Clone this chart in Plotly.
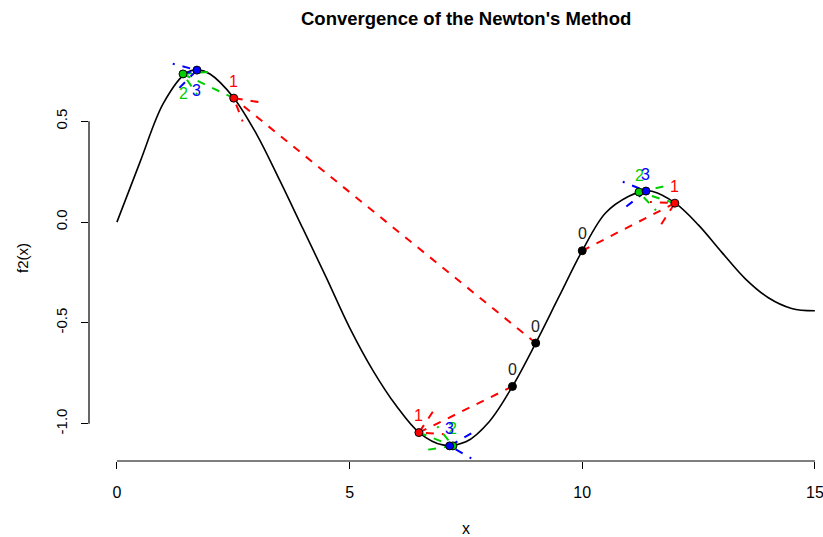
import math
import plotly.graph_objects as go

# ---- data ----
curve_x = [0.0, 0.5, 1.0, 1.5, 1.75, 2.0, 2.5, 3.0, 3.5, 4.0, 4.5, 5.0, 5.5, 6.0, 6.5,
           7.0, 7.5, 8.0, 8.5, 9.0, 9.5, 10.0, 10.5, 11.0, 11.35, 11.5, 12.0, 12.5,
           13.0, 13.5, 14.0, 14.5, 15.0]
curve_y = [0.0, 0.30, 0.59, 0.742, 0.755, 0.735, 0.62, 0.437, 0.207, -0.034, -0.275, -0.523,
           -0.735, -0.91, -1.045, -1.105, -1.09, -0.99, -0.815, -0.60, -0.37, -0.142, 0.045,
           0.128, 0.155, 0.153, 0.094, -0.015, -0.15, -0.28, -0.375, -0.428, -0.44]

run_a_x = [8.5, 6.49, 7.22, 7.15]
run_a_y = [-0.815, -1.044, -1.11, -1.11]
run_b_x = [9.0, 2.51, 1.42, 1.72]
run_b_y = [-0.60, 0.615, 0.735, 0.754]
run_c_x = [10.0, 11.99, 11.22, 11.37]
run_c_y = [-0.142, 0.094, 0.149, 0.154]
iter_labels = ["0", "1", "2", "3"]

x_ticks = [0, 5, 10, 15]
y_ticks = [-1.0, -0.5, 0.0, 0.5]
y_ticktext = ["-1.0", "-0.5", "0.0", "0.5"]

# ---- style ----
W, H = 823, 537
ML, MR, MT, MB = 89, 0, 55, 76
XR = [-0.6, 15.174]
YR = [-1.185, 0.829]
cols = ["black", "#FF0000", "#00CD00", "#0000FF"]
FONT = "Liberation Sans, Arial, sans-serif"
below = {(1, 2), (1, 3)}

pw = W - ML - MR
ph = H - MT - MB
sx = pw / (XR[1] - XR[0])
sy = ph / (YR[1] - YR[0])

fig = go.Figure()
fig.add_trace(go.Scatter(x=curve_x, y=curve_y, mode="lines",
                         line=dict(color="black", width=1.6, shape="spline", smoothing=1.0),
                         hoverinfo="skip"))

runs = [(run_a_x, run_a_y), (run_b_x, run_b_y), (run_c_x, run_c_y)]
dash = "8px,8px"
head_len = 25
ang = math.radians(30)

for xs, ys in runs:
    for i in range(1, len(xs)):
        x0, y0, x1, y1 = xs[i - 1], ys[i - 1], xs[i], ys[i]
        c = cols[i]
        fig.add_trace(go.Scatter(x=[x0, x1], y=[y0, y1], mode="lines",
                                 line=dict(color=c, width=2, dash=dash), hoverinfo="skip"))
        dxp = (x0 - x1) * sx
        dyp = (y0 - y1) * sy
        n = math.hypot(dxp, dyp)
        if n == 0:
            continue
        ux, uy = dxp / n, dyp / n
        pts = []
        for a in (ang, -ang):
            rx = ux * math.cos(a) - uy * math.sin(a)
            ry = ux * math.sin(a) + uy * math.cos(a)
            pts.append((x1 + rx * head_len / sx, y1 + ry * head_len / sy))
        fig.add_trace(go.Scatter(x=[pts[0][0], x1, pts[1][0]], y=[pts[0][1], y1, pts[1][1]],
                                 mode="lines", line=dict(color=c, width=2, dash=dash),
                                 hoverinfo="skip"))

annotations = []
for r, (xs, ys) in enumerate(runs):
    for i in range(len(xs)):
        fig.add_trace(go.Scatter(x=[xs[i]], y=[ys[i]], mode="markers",
                                 marker=dict(color=cols[i], size=8,
                                             line=dict(color="black", width=1)),
                                 hoverinfo="skip"))
        shift = -20 if (r, i) in below else 17
        annotations.append(dict(x=xs[i], y=ys[i], xref="x", yref="y", text=iter_labels[i],
                                showarrow=False, yshift=shift,
                                font=dict(family=FONT, size=16,
                                          color=cols[i] if i > 0 else "#222222")))

annotations.append(dict(x=(466 - ML) / pw, y=(H - MB - 18) / ph, xref="paper", yref="paper",
                        text="<b>Convergence of the Newton's Method</b>", showarrow=False,
                        xanchor="center", yanchor="middle",
                        font=dict(family=FONT, size=18.5, color="black")))
annotations.append(dict(x=(466 - ML) / pw, y=(H - MB - 528) / ph, xref="paper", yref="paper",
                        text="x", showarrow=False, xanchor="center", yanchor="middle",
                        font=dict(family=FONT, size=16, color="black")))
annotations.append(dict(x=(22 - ML) / pw, y=0.5, xref="paper", yref="paper",
                        text="f2(x)", showarrow=False, textangle=-90,
                        xanchor="center", yanchor="middle",
                        font=dict(family=FONT, size=15, color="black")))

shapes = [
    dict(type="line", xref="x", yref="paper", x0=x_ticks[0], x1=x_ticks[-1], y0=0, y1=0,
         line=dict(color="black", width=1.2)),
    dict(type="line", xref="paper", yref="y", x0=0, x1=0, y0=y_ticks[0], y1=y_ticks[-1],
         line=dict(color="black", width=1.2)),
]

fig.update_layout(
    width=W, height=H, autosize=False,
    margin=dict(l=ML, r=MR, t=MT, b=MB, pad=0),
    paper_bgcolor="white", plot_bgcolor="white",
    showlegend=False,
    annotations=annotations, shapes=shapes,
    xaxis=dict(range=XR, tickvals=x_ticks, ticktext=[str(v) for v in x_ticks],
               ticks="outside", ticklen=7, tickwidth=1.2, tickcolor="black",
               showline=False, showgrid=False, zeroline=False,
               ticklabelstandoff=10, ticklabeloverflow="allow",
               tickfont=dict(family=FONT, size=16, color="black")),
    yaxis=dict(range=YR, tickvals=y_ticks, ticktext=y_ticktext, tickangle=-90,
               ticks="outside", ticklen=7, tickwidth=1.2, tickcolor="black",
               showline=False, showgrid=False, zeroline=False,
               ticklabelstandoff=8,
               tickfont=dict(family=FONT, size=15, color="black")),
)

fig.write_html("out.html")
